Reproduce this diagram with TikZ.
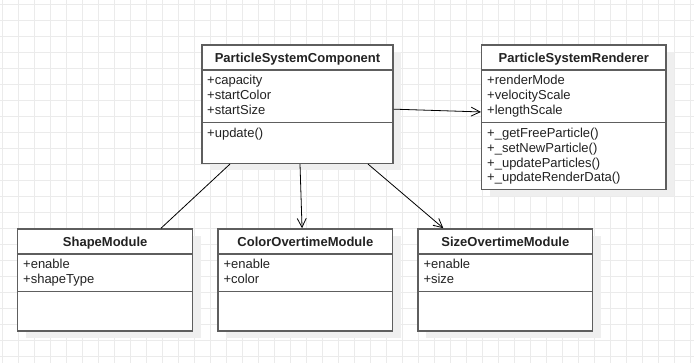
\documentclass[tikz,border=0pt]{standalone}
\usepackage{fontspec}
\setmainfont{Liberation Sans}
\usetikzlibrary{arrows.meta,shadows}
\definecolor{gridc}{HTML}{EBEBEB}
\definecolor{boxc}{HTML}{5E5E5E}
\definecolor{shadowc}{HTML}{EFEFEF}
\definecolor{txt}{HTML}{222222}

\begin{document}
\begin{tikzpicture}[x=1pt,y=-1pt,
  umlbox/.style={draw=boxc, line width=1.5pt, fill=white, inner sep=0pt,
    drop shadow={shadow xshift=8pt, shadow yshift=-7pt, fill=shadowc, opacity=1}},
  divider/.style={draw=boxc, line width=1.5pt},
  classname/.style={anchor=base, inner sep=0pt, text=txt,
    font=\fontsize{13}{15}\selectfont\bfseries},
  member/.style={anchor=base west, inner sep=0pt, text=txt,
    font=\fontsize{13}{15}\selectfont},
  link/.style={draw=black, line width=0.8pt},
  assoc/.style={link, -{Straight Barb[length=9pt,width=9pt,line width=0.8pt]}}]

% canvas and background grid
\fill[white] (0,0) rectangle (694,363);
\useasboundingbox (0,0) rectangle (694,363);
\foreach \gx in {2,18,...,690} \draw[gridc, line width=1pt] (\gx,0) -- (\gx,363);
\foreach \gy in {5,21,...,357} \draw[gridc, line width=1pt] (0,\gy) -- (694,\gy);

% ParticleSystemComponent
\node[umlbox, minimum width=191pt, minimum height=118.3pt] (psc) at (297.5,104.15) {};
\draw[divider] (psc.west |- 0,70) -- (psc.east |- 0,70);
\draw[divider] (psc.west |- 0,122.7) -- (psc.east |- 0,122.7);
\node[classname] (psc-name) at (297.5,62.2) {ParticleSystemComponent};
\node[member] (psc-a1) at (207,85) {+capacity};
\node[member] (psc-a2) at (207,99.7) {+startColor};
\node[member] (psc-a3) at (207,114.4) {+startSize};
\node[member] (psc-m1) at (207,137.7) {+update()};

% ParticleSystemRenderer
\node[umlbox, minimum width=184.3pt, minimum height=144.3pt] (psr) at (573.85,117.15) {};
\draw[divider] (psr.west |- 0,70) -- (psr.east |- 0,70);
\draw[divider] (psr.west |- 0,122.7) -- (psr.east |- 0,122.7);
\node[classname] (psr-name) at (573.85,62.2) {ParticleSystemRenderer};
\node[member] (psr-a1) at (487,85) {+renderMode};
\node[member] (psr-a2) at (487,99.7) {+velocityScale};
\node[member] (psr-a3) at (487,114.4) {+lengthScale};
\node[member] (psr-m1) at (487,137.7) {+\_getFreeParticle()};
\node[member] (psr-m2) at (487,152.4) {+\_setNewParticle()};
\node[member] (psr-m3) at (487,167.1) {+\_updateParticles()};
\node[member] (psr-m4) at (487,181.8) {+\_updateRenderData()};

% ShapeModule
\node[umlbox, minimum width=175pt, minimum height=102pt] (shape) at (105.2,280) {};
\draw[divider] (shape.west |- 0,254) -- (shape.east |- 0,254);
\draw[divider] (shape.west |- 0,291.7) -- (shape.east |- 0,291.7);
\node[classname] (shape-name) at (105.2,246.2) {ShapeModule};
\node[member] (shape-a1) at (23,269) {+enable};
\node[member] (shape-a2) at (23,283.7) {+shapeType};

% ColorOvertimeModule
\node[umlbox, minimum width=174.7pt, minimum height=102pt] (color) at (305.35,280) {};
\draw[divider] (color.west |- 0,254) -- (color.east |- 0,254);
\draw[divider] (color.west |- 0,291.7) -- (color.east |- 0,291.7);
\node[classname] (color-name) at (305.35,246.2) {ColorOvertimeModule};
\node[member] (color-a1) at (223.3,269) {+enable};
\node[member] (color-a2) at (223.3,283.7) {+color};

% SizeOvertimeModule
\node[umlbox, minimum width=174.7pt, minimum height=102pt] (size) at (505.35,280) {};
\draw[divider] (size.west |- 0,254) -- (size.east |- 0,254);
\draw[divider] (size.west |- 0,291.7) -- (size.east |- 0,291.7);
\node[classname] (size-name) at (505.35,246.2) {SizeOvertimeModule};
\node[member] (size-a1) at (423.3,269) {+enable};
\node[member] (size-a2) at (423.3,283.7) {+size};

% associations
\draw[assoc] ([yshift=-5pt]psc.east) -- ([yshift=5.2pt]psr.west);
\draw[link]  ([xshift=-67.5pt]psc.south) -- ([xshift=55.8pt]shape.north);
\draw[assoc] ([xshift=2.5pt]psc.south) -- ([xshift=-3.3pt]color.north);
\draw[assoc] ([xshift=70.5pt]psc.south) -- ([xshift=-62pt]size.north);
\end{tikzpicture}
\end{document}
